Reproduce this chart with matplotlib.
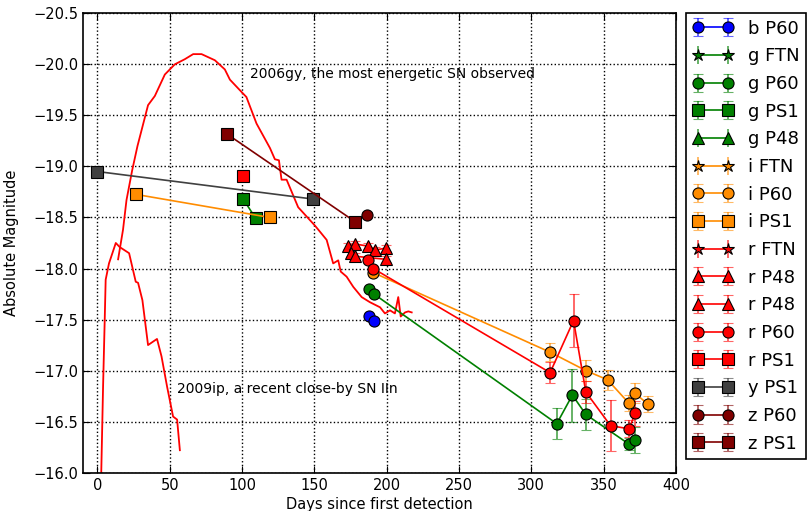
import matplotlib
matplotlib.use("Agg")
import matplotlib.pyplot as plt

# template light curves (no errors, plain red lines)
sn2006gy_day = [14.3, 17.7, 20.1, 24.0, 27.7, 35.0, 39.7, 46.6, 53.5, 60.4, 66.2,
                72.0, 81.2, 88.1, 91.6, 99.6, 103.0, 110.0, 119.3, 122.7, 125.5,
                127.3, 130.8, 138.8, 150.4, 153.9, 158.5, 163.0, 166.5, 168.2,
                172.3, 176.9, 182.7, 188.4, 195.4, 198.8, 202.3, 205.7, 208.0,
                209.7, 212.7, 215.0, 217.3]
sn2006gy_mag = [-18.09, -18.38, -18.67, -18.96, -19.20, -19.60, -19.69, -19.90,
                -20.00, -20.05, -20.10, -20.10, -20.04, -19.95, -19.85, -19.73,
                -19.68, -19.42, -19.18, -19.07, -19.06, -18.87, -18.87, -18.60,
                -18.42, -18.36, -18.28, -18.05, -18.08, -17.97, -17.92, -17.82,
                -17.72, -17.67, -17.62, -17.56, -17.59, -17.56, -17.72, -17.53,
                -17.57, -17.58, -17.57]

sn2009ip_day = [2.5, 3.9, 5.1, 5.7, 8.0, 12.7, 15.4, 21.9, 26.5, 28.1, 31.1,
                35.0, 41.2, 44.3, 48.2, 52.3, 55.1, 57.0]
sn2009ip_mag = [-15.90, -16.84, -17.53, -17.89, -18.05, -18.25, -18.21, -18.15,
                -17.87, -17.86, -17.69, -17.25, -17.31, -17.14, -16.84, -16.55,
                -16.52, -16.22]

# photometry per filter / telescope
b_p60_day = [187.8, 191.2]
b_p60_mag = [-17.53, -17.49]
b_p60_err = [0.02, 0.02]

g_ftn_day, g_ftn_mag, g_ftn_err = [], [], []

g_p60_day = [187.8, 191.2, 317.6, 328.4, 337.7, 367.5, 371.8]
g_p60_mag = [-17.80, -17.75, -16.48, -16.76, -16.57, -16.28, -16.32]
g_p60_err = [0.02, 0.02, 0.15, 0.26, 0.15, 0.06, 0.13]

g_ps1_day = [100.8, 109.5]
g_ps1_mag = [-18.68, -18.49]
g_ps1_err = [0.02, 0.02]

g_p48_day, g_p48_mag, g_p48_err = [], [], []

i_ftn_day, i_ftn_mag, i_ftn_err = [], [], []

i_p60_day = [190.7, 313.0, 337.7, 352.7, 367.5, 371.4, 380.8]
i_p60_mag = [-17.96, -17.18, -17.00, -16.91, -16.68, -16.78, -16.67]
i_p60_err = [0.02, 0.09, 0.10, 0.10, 0.08, 0.10, 0.08]

i_ps1_day = [27.0, 119.2]
i_ps1_mag = [-18.725, -18.50]
i_ps1_err = [0.02, 0.02]

r_ftn_day, r_ftn_mag, r_ftn_err = [], [], []

r_p48a_day = [173.4, 178.1, 186.8, 191.9, 199.5]
r_p48a_mag = [-18.22, -18.24, -18.22, -18.18, -18.20]
r_p48a_err = [0.03, 0.03, 0.03, 0.03, 0.03]

r_p48b_day = [175.1, 178.1, 199.5]
r_p48b_mag = [-18.15, -18.12, -18.09]
r_p48b_err = [0.03, 0.03, 0.03]

r_p60_day = [186.8, 190.7, 313.0, 329.2, 337.7, 354.8, 367.5, 371.8]
r_p60_mag = [-18.08, -18.00, -16.98, -17.49, -16.79, -16.46, -16.43, -16.58]
r_p60_err = [0.02, 0.02, 0.10, 0.26, 0.11, 0.25, 0.085, 0.12]

r_ps1_day = [100.8]
r_ps1_mag = [-18.905]
r_ps1_err = [0.02]

y_ps1_day = [0.0, 149.2]
y_ps1_mag = [-18.95, -18.68]
y_ps1_err = [0.04, 0.03]

z_p60_day = [186.6]
z_p60_mag = [-18.52]
z_p60_err = [0.03]

z_ps1_day = [89.3, 178.0]
z_ps1_mag = [-19.32, -18.46]
z_ps1_err = [0.02, 0.02]

series = [
    ("b P60", b_p60_day, b_p60_mag, b_p60_err, "blue", "o"),
    ("g FTN", g_ftn_day, g_ftn_mag, g_ftn_err, "green", "*"),
    ("g P60", g_p60_day, g_p60_mag, g_p60_err, "green", "o"),
    ("g PS1", g_ps1_day, g_ps1_mag, g_ps1_err, "green", "s"),
    ("g P48", g_p48_day, g_p48_mag, g_p48_err, "green", "^"),
    ("i FTN", i_ftn_day, i_ftn_mag, i_ftn_err, "darkorange", "*"),
    ("i P60", i_p60_day, i_p60_mag, i_p60_err, "darkorange", "o"),
    ("i PS1", i_ps1_day, i_ps1_mag, i_ps1_err, "darkorange", "s"),
    ("r FTN", r_ftn_day, r_ftn_mag, r_ftn_err, "red", "*"),
    ("r P48", r_p48a_day, r_p48a_mag, r_p48a_err, "red", "^"),
    ("r P48", r_p48b_day, r_p48b_mag, r_p48b_err, "red", "^"),
    ("r P60", r_p60_day, r_p60_mag, r_p60_err, "red", "o"),
    ("r PS1", r_ps1_day, r_ps1_mag, r_ps1_err, "red", "s"),
    ("y PS1", y_ps1_day, y_ps1_mag, y_ps1_err, "#404040", "s"),
    ("z P60", z_p60_day, z_p60_mag, z_p60_err, "#800000", "o"),
    ("z PS1", z_ps1_day, z_ps1_mag, z_ps1_err, "#800000", "s"),
]

fig = plt.figure(figsize=(8.07, 5.11), dpi=100)
ax = fig.add_axes([0.1028, 0.075, 0.7348, 0.899])

ax.plot(sn2006gy_day, sn2006gy_mag, color="red", lw=1.3, zorder=2)
ax.plot(sn2009ip_day, sn2009ip_mag, color="red", lw=1.3, zorder=2)

for label, d, m, e, col, mk in series:
    ms = 9 if mk == "*" else 8
    line, caps, bars = ax.errorbar(d, m, yerr=e, fmt="-", marker=mk, color=col,
                                   mfc=col, mec="black", mew=0.8, ms=ms, lw=1.2,
                                   elinewidth=1.4, capsize=3.5, capthick=1.2,
                                   label=label, zorder=3)
    for c in caps:
        c.set_alpha(0.6)
    for b in bars:
        b.set_alpha(0.6)

ax.text(105.5, -19.91, "2006gy, the most energetic SN observed",
        fontsize=10, va="center", ha="left")
ax.text(55.0, -16.82, "2009ip, a recent close-by SN IIn",
        fontsize=10, va="center", ha="left")

ax.set_xlim(-10, 400)
ax.set_ylim(-16.0, -20.5)
ax.set_xticks(range(0, 401, 50))
ax.set_yticks([-16.0, -16.5, -17.0, -17.5, -18.0, -18.5, -19.0, -19.5, -20.0, -20.5])
ax.grid(True, color="black", linestyle=":", linewidth=1.0)
ax.tick_params(direction="in", top=True, right=True, labelsize=10.5, length=5)
for s in ax.spines.values():
    s.set_linewidth(1.2)
ax.set_xlabel("Days since first detection", fontsize=10.5, labelpad=3)
ax.set_ylabel("Absolute Magnitude", fontsize=10.5, labelpad=10)

leg = ax.legend(loc="upper left", bbox_to_anchor=(1.017, 1.0), numpoints=2,
                fontsize=13, handlelength=2.3, handletextpad=0.8,
                labelspacing=0.535, borderpad=0.35, borderaxespad=0.0,
                fancybox=False, framealpha=1.0)
leg.get_frame().set_edgecolor("black")
leg.get_frame().set_linewidth(1.2)

fig.savefig("out.png", dpi=100)
